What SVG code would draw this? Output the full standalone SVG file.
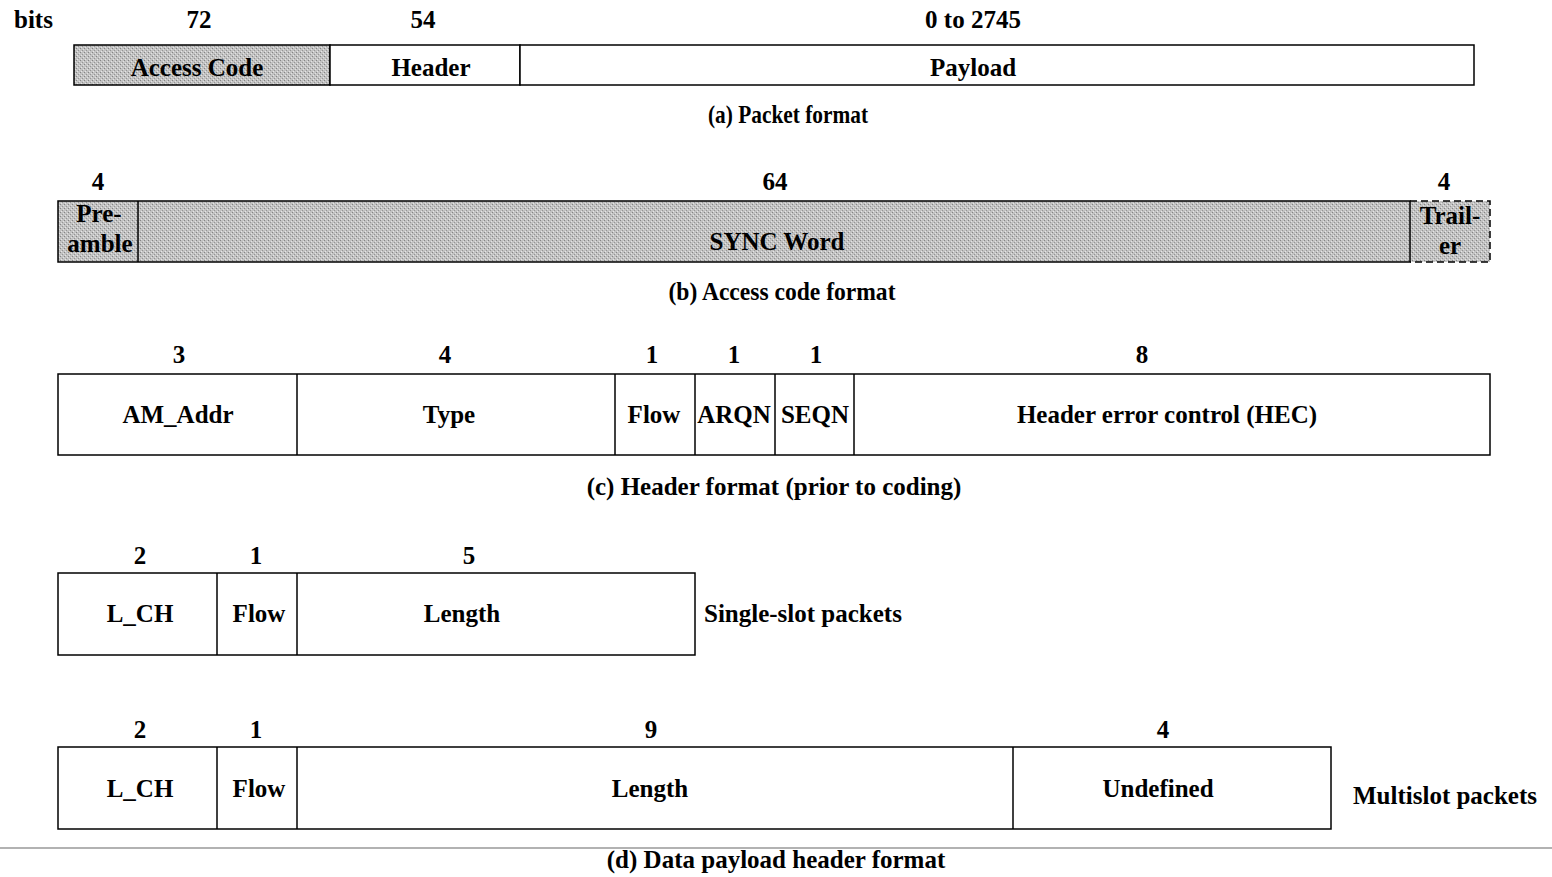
<svg xmlns="http://www.w3.org/2000/svg" width="1552" height="877" viewBox="0 0 1552 877">
<style>
text{font-family:"Liberation Serif","Times New Roman",serif;font-weight:bold;font-size:25px;fill:#000;text-anchor:middle}
.l{text-anchor:start}
.box{fill:#fff;stroke:#000;stroke-width:1.5}
.grey{fill:url(#dots);stroke:#000;stroke-width:1.5}
.dash{fill:none;stroke:#000;stroke-width:1.5;stroke-dasharray:7 4}
.div{stroke:#000;stroke-width:1.5}
</style>
<defs>
<pattern id="dots" width="4" height="4" patternUnits="userSpaceOnUse">
<rect width="4" height="4" fill="#c2c2c2"/>
<rect x="0" y="0" width="1" height="1" fill="#858585"/>
<rect x="2" y="2" width="1" height="1" fill="#959595"/>
<rect x="3" y="1" width="1" height="1" fill="#e2e2e2"/>
<rect x="1" y="3" width="1" height="1" fill="#e6e6e6"/>
</pattern>
</defs>

<g id="packet-format">
<text class="l" x="14" y="28">bits</text>
<text x="199" y="28">72</text>
<text x="423" y="28">54</text>
<text x="973" y="28">0 to 2745</text>
<rect class="grey" x="74" y="45" width="256" height="40"/>
<rect class="box" x="330" y="45" width="190" height="40"/>
<rect class="box" x="520" y="45" width="954" height="40"/>
<text x="197" y="76">Access Code</text>
<text x="431" y="76">Header</text>
<text x="973" y="76">Payload</text>
<text x="788" y="123" textLength="160" lengthAdjust="spacingAndGlyphs">(a) Packet format</text>
</g>

<g id="access-code-format">
<text x="98" y="190">4</text>
<text x="775" y="190">64</text>
<text x="1444" y="190">4</text>
<rect x="58" y="201" width="1432" height="61" fill="url(#dots)"/>
<rect class="grey" x="58" y="201" width="1352" height="61"/>
<line class="div" x1="138" y1="201" x2="138" y2="262"/>
<path class="dash" d="M1410 201 H1490 V262 H1410"/>
<text x="99" y="222">Pre-</text>
<text x="100" y="252">amble</text>
<text x="777" y="250">SYNC Word</text>
<text x="1450" y="224">Trail-</text>
<text x="1450" y="254">er</text>
<text x="782" y="300" textLength="227" lengthAdjust="spacingAndGlyphs">(b) Access code format</text>
</g>

<g id="header-format">
<text x="179" y="363">3</text>
<text x="445" y="363">4</text>
<text x="652" y="363">1</text>
<text x="734" y="363">1</text>
<text x="816" y="363">1</text>
<text x="1142" y="363">8</text>
<rect class="box" x="58" y="374" width="1432" height="81"/>
<line class="div" x1="297" y1="374" x2="297" y2="455"/>
<line class="div" x1="615" y1="374" x2="615" y2="455"/>
<line class="div" x1="695" y1="374" x2="695" y2="455"/>
<line class="div" x1="775" y1="374" x2="775" y2="455"/>
<line class="div" x1="854" y1="374" x2="854" y2="455"/>
<text x="178" y="423">AM_Addr</text>
<text x="449" y="423">Type</text>
<text x="654" y="423">Flow</text>
<text x="734" y="423">ARQN</text>
<text x="815" y="423">SEQN</text>
<text x="1167" y="423">Header error control (HEC)</text>
<text x="774" y="495">(c) Header format (prior to coding)</text>
</g>

<g id="single-slot">
<text x="140" y="564">2</text>
<text x="256" y="564">1</text>
<text x="469" y="564">5</text>
<rect class="box" x="58" y="573" width="637" height="82"/>
<line class="div" x1="217" y1="573" x2="217" y2="655"/>
<line class="div" x1="297" y1="573" x2="297" y2="655"/>
<text x="140" y="622">L_CH</text>
<text x="259" y="622">Flow</text>
<text x="462" y="622">Length</text>
<text class="l" x="704" y="622">Single-slot packets</text>
</g>

<g id="multislot">
<text x="140" y="738">2</text>
<text x="256" y="738">1</text>
<text x="651" y="738">9</text>
<text x="1163" y="738">4</text>
<rect class="box" x="58" y="747" width="1273" height="82"/>
<line class="div" x1="217" y1="747" x2="217" y2="829"/>
<line class="div" x1="297" y1="747" x2="297" y2="829"/>
<line class="div" x1="1013" y1="747" x2="1013" y2="829"/>
<text x="140" y="797">L_CH</text>
<text x="259" y="797">Flow</text>
<text x="650" y="797">Length</text>
<text x="1158" y="797">Undefined</text>
<text x="1445" y="804">Multislot packets</text>
</g>

<g id="footer">
<line x1="0" y1="848" x2="1552" y2="848" stroke="#666" stroke-width="1.2"/>
<text x="776" y="868">(d) Data payload header format</text>
</g>
</svg>
